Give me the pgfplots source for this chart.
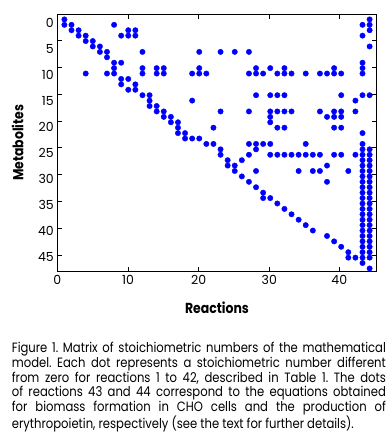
\documentclass[border=0pt]{standalone}
\usepackage{fontspec}
\setmainfont{Poppins}
\newfontfamily\capfont{Poppins}[FakeStretch=0.86]
\usepackage{pgfplots}
\usepackage{pgfplotstable}
\pgfplotsset{compat=1.18}
\pgfplotstableread{
c r
1 1
1 2
2 2
2 3
3 3
3 4
4 4
4 5
4 11
5 5
5 6
6 6
6 7
7 7
7 8
7 11
8 2
8 9
8 10
8 11
9 4
9 9
9 12
9 13
10 3
10 4
10 12
10 14
11 3
11 4
11 13
11 14
12 7
12 10
12 11
12 15
13 15
13 16
13 17
14 10
14 11
14 17
14 18
15 10
15 11
15 18
15 19
16 19
16 20
17 20
17 21
17 22
18 22
18 23
19 11
19 16
19 23
20 7
20 10
20 11
20 23
21 11
21 24
22 21
22 24
23 7
23 18
23 25
23 26
24 27
24 28
25 7
25 28
25 29
26 27
26 30
27 7
27 11
27 18
27 24
27 26
27 31
28 10
28 11
28 15
28 24
28 25
28 29
28 32
29 11
29 24
29 33
29 34
30 10
30 15
30 18
30 19
30 20
30 24
30 26
30 34
31 11
31 15
31 18
31 21
31 26
31 35
32 10
32 11
32 15
32 18
32 21
32 26
32 36
33 11
33 18
33 26
33 37
34 26
34 29
34 38
35 11
35 24
35 26
35 39
36 26
36 29
36 40
37 11
37 18
37 26
37 29
38 11
38 19
38 28
38 31
38 41
39 10
39 11
39 18
39 19
39 21
39 26
39 42
40 11
40 15
40 18
40 19
40 21
40 26
40 43
41 29
41 44
41 45
42 16
42 18
42 26
42 45
}\reacA
\pgfplotstableread{
c r
43 2
43 4
43 9
43 10
43 11
43 15
43 22
43 24
43 25
43 26
43 27
43 28
43 29
43 30
43 31
43 32
43 33
43 34
43 35
43 36
43 37
43 38
43 39
43 40
43 41
43 42
43 43
43 44
43 45
43 46
44 1
44 2
44 3
44 6
44 15
44 25
44 26
44 27
44 28
44 29
44 30
44 31
44 32
44 33
44 34
44 35
44 36
44 37
44 38
44 39
44 40
44 41
44 42
44 43
44 44
44 45
44 47
}\reacB
\begin{document}
\frenchspacing
\begin{tikzpicture}[x=1bp,y=1bp]
\useasboundingbox (0,0) rectangle (388,440);
\begin{axis}[
  at={(57.3bp,168.3bp)}, anchor=south west,
  scale only axis, width=319.4bp, height=257.7bp,
  xmin=0, xmax=45, ymin=0, ymax=47.6, y dir=reverse,
  axis line style={black, line width=0.8bp},
  tick align=inside, major tick length=5bp,
  tick style={black, line width=0.8bp},
  xtick={0,9.96,19.92,29.87,39.73},
  xticklabels={0,10,20,30,40},
  ytick={0,4.95,9.89,14.84,19.79,24.73,29.68,34.63,39.57,44.52},
  yticklabels={},
  extra y ticks={1.61,6.41,11.21,16.02,20.82,25.62,30.42,35.22,40.03,44.83},
  extra y tick labels={0,5,10,15,20,25,30,35,40,45},
  extra y tick style={grid=none, tick style={draw=none}},
  /pgf/number format/assume math mode=true,
  tick label style={font=\fontsize{12.5bp}{14bp}\selectfont},
  xlabel={Reactions}, ylabel={Metabolites},
  label style={font=\capfont\fontsize{14.5bp}{16bp}\selectfont\bfseries},
  xlabel style={at={(axis description cs:0.5,-0.1614)}, anchor=base},
  ylabel style={at={(axis description cs:-0.1065,0.5)}, anchor=base, rotate=0},
]
\addplot[only marks, mark=*, mark size=2.7bp, color=blue, mark options={draw=blue, fill=blue}] table[x=c, y=r] {\reacA};
\addplot[only marks, mark=*, mark size=2.7bp, color=blue, mark options={draw=blue, fill=blue}] table[x=c, y=r] {\reacB};
\end{axis}
\node[anchor=base west, inner sep=0pt] at (11.7,87.3) {\parbox[t]{374bp}{\capfont\fontsize{13.5bp}{14.7bp}\selectfont
\makebox[374bp][s]{Figure 1. Matrix of stoichiometric numbers of the mathematical}\\
\makebox[374bp][s]{model. Each dot represents a stoichiometric number different}\\
\makebox[374bp][s]{from zero for reactions 1 to 42, described in Table 1. The dots}\\
\makebox[374bp][s]{of reactions 43 and 44 correspond to the equations obtained}\\
\makebox[374bp][s]{for biomass formation in CHO cells and the production of}\\
erythropoietin, respectively (see the text for further details).}};
\end{tikzpicture}
\end{document}
